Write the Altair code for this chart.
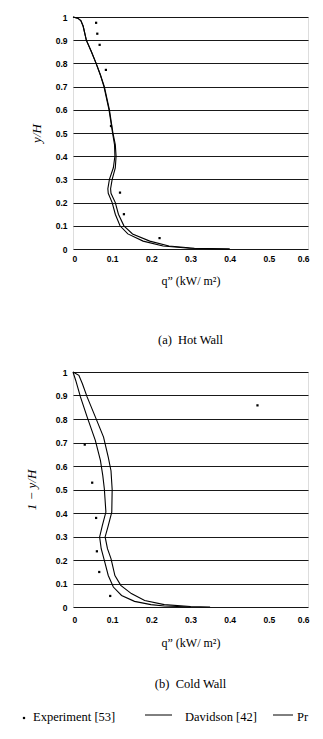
import altair as alt
import pandas as pd

# ---------------- data ----------------
x_ticks = [0, 0.1, 0.2, 0.3, 0.4, 0.5, 0.6]
y_ticks = [0, 0.1, 0.2, 0.3, 0.4, 0.5, 0.6, 0.7, 0.8, 0.9, 1.0]

# (a) Hot wall
hot_dav_q = [0, 0.012, 0.02, 0.026, 0.034, 0.047, 0.059, 0.07, 0.079, 0.092, 0.101, 0.106, 0.107,
             0.103, 0.093, 0.089, 0.09, 0.1, 0.108, 0.12, 0.14, 0.179, 0.23, 0.297, 0.4]
hot_dav_y = [1, 0.995, 0.985, 0.96, 0.9, 0.85, 0.8, 0.75, 0.7, 0.6, 0.5, 0.45, 0.4,
             0.35, 0.3, 0.26, 0.24, 0.2, 0.15, 0.1, 0.065, 0.034, 0.013, 0.003, 0]
hot_pre_q = [0, 0.012, 0.02, 0.026, 0.034, 0.047, 0.059, 0.07, 0.08, 0.093, 0.102, 0.108, 0.11,
             0.108, 0.1, 0.096, 0.097, 0.108, 0.116, 0.13, 0.152, 0.196, 0.245, 0.31, 0.4]
hot_pre_y = [1, 0.995, 0.985, 0.96, 0.9, 0.85, 0.8, 0.75, 0.7, 0.6, 0.5, 0.45, 0.4,
             0.35, 0.3, 0.26, 0.24, 0.2, 0.15, 0.1, 0.065, 0.034, 0.013, 0.003, 0]
hot_exp_q = [0.059, 0.062, 0.068, 0.084, 0.097, 0.12, 0.13, 0.221]
hot_exp_y = [0.975, 0.928, 0.88, 0.772, 0.53, 0.243, 0.15, 0.047]

# (b) Cold wall
cold_dav_q = [0, 0.007, 0.019, 0.036, 0.057, 0.07, 0.076, 0.08, 0.084, 0.075, 0.068, 0.072, 0.08,
              0.09, 0.103, 0.124, 0.157, 0.199, 0.233, 0.3]
cold_dav_y = [1, 0.964, 0.894, 0.809, 0.709, 0.624, 0.56, 0.503, 0.404, 0.347, 0.298, 0.248, 0.198,
              0.134, 0.085, 0.049, 0.024, 0.01, 0.004, 0]
cold_pre_q = [0, 0.015, 0.024, 0.036, 0.057, 0.078, 0.09, 0.097, 0.1, 0.099, 0.089, 0.082, 0.088,
              0.097, 0.107, 0.122, 0.149, 0.183, 0.233, 0.3, 0.35]
cold_pre_y = [1, 0.986, 0.95, 0.894, 0.809, 0.723, 0.638, 0.58, 0.5, 0.404, 0.34, 0.298, 0.248,
              0.206, 0.134, 0.092, 0.057, 0.028, 0.01, 0.002, 0]
cold_exp_q = [0.471, 0.030, 0.049, 0.059, 0.061, 0.067, 0.095]
cold_exp_y = [0.858, 0.691, 0.529, 0.379, 0.237, 0.149, 0.047]

x_title = "q\u201d (kW/ m\u00b2)"
captions = ["(a)\u00a0\u00a0Hot Wall", "(b)\u00a0\u00a0Cold Wall"]
y_titles = ["y/H", "1 \u2212 y/H"]
legend_labels = ["Experiment [53]", "Davidson [42]", "Present"]

SERIF = "Liberation Serif"
SANS = "Liberation Sans"
W = 235


def lines_df(dq, dy, pq, py):
    rows = []
    for i, (q, y) in enumerate(zip(dq, dy)):
        rows.append({"q": q, "Y": y, "s": "Davidson", "i": i})
    for i, (q, y) in enumerate(zip(pq, py)):
        rows.append({"q": q, "Y": y, "s": "Present", "i": i})
    return pd.DataFrame(rows)


def encs(ytitle, label_pad, title_pad, ytitle_pad):
    xenc = alt.X("q:Q", scale=alt.Scale(domain=[0, 0.6], nice=False, zero=False),
                 axis=alt.Axis(values=x_ticks, tickCount=20, format=".1~f", grid=False, ticks=False,
                               domain=False, labelOverlap=False, labelFlush=True, labelFlushOffset=1,
                               labelFont=SANS, labelFontWeight="bold", labelFontSize=8.5,
                               labelColor="black", labelPadding=label_pad,
                               title=x_title, titleFont=SERIF, titleFontSize=12,
                               titleFontWeight="normal", titleColor="black", titlePadding=title_pad))
    yenc = alt.Y("Y:Q", scale=alt.Scale(domain=[0, 1], nice=False, zero=False),
                 axis=alt.Axis(values=y_ticks, tickCount=20, format=".1~f", grid=True,
                               gridColor="black", gridWidth=1.2, gridOpacity=0.9, ticks=False,
                               domain=False, labelOverlap=False, labelFlush=False,
                               labelFont=SANS, labelFontWeight="bold", labelFontSize=8.5,
                               labelColor="black", labelPadding=6,
                               title=ytitle, titleFont=SERIF, titleFontSize=13,
                               titleFontStyle="italic", titleFontWeight="normal",
                               titleColor="black", titlePadding=ytitle_pad))
    return xenc, yenc


def panel_layers(dq, dy, pq, py, eq, ey, ytitle, label_pad, title_pad, ytitle_pad):
    xenc, yenc = encs(ytitle, label_pad, title_pad, ytitle_pad)
    ln = alt.Chart(lines_df(dq, dy, pq, py)).mark_line(color="black", strokeWidth=1.1).encode(
        x=xenc, y=yenc, detail="s:N", order="i:Q")
    pts = alt.Chart(pd.DataFrame({"q": eq, "Y": ey})).mark_square(
        size=5, color="black", opacity=1).encode(x=xenc, y=yenc)
    return [ln, pts]


def text_layer(label, x, y, align="left", size=12.5, **kw):
    return alt.Chart(pd.DataFrame({"t": [label]})).mark_text(
        align=align, baseline="middle", font=SERIF, fontSize=size, color="black", **kw).encode(
        text="t:N", x=alt.value(x), y=alt.value(y))


# ---- top panel ----
top = alt.layer(*panel_layers(hot_dav_q, hot_dav_y, hot_pre_q, hot_pre_y, hot_exp_q, hot_exp_y,
                              y_titles[0], 5, 13, 12)).properties(
    width=W, height=232,
    title=alt.TitleParams(captions[0], orient="bottom", offset=47, font=SERIF,
                          fontSize=12.5, fontWeight="normal", color="black", anchor="middle"))

# ---- bottom panel with caption and legend ----
HB = 235
LY = 345
extra = [
    text_layer(captions[1], W / 2, HB + 77, align="center", size=12.5),
    alt.Chart(pd.DataFrame({"t": [legend_labels[0]]})).mark_square(
        size=5, color="black", opacity=1).encode(x=alt.value(-49), y=alt.value(LY + 1)),
    text_layer(legend_labels[0], -40, LY),
    alt.Chart(pd.DataFrame({"t": [legend_labels[1]]})).mark_rule(
        color="black", strokeWidth=1).encode(x=alt.value(72), x2=alt.value(99), y=alt.value(LY - 2)),
    text_layer(legend_labels[1], 112, LY),
    alt.Chart(pd.DataFrame({"t": [legend_labels[2]]})).mark_rule(
        color="black", strokeWidth=1).encode(x=alt.value(200), x2=alt.value(220), y=alt.value(LY - 2)),
    text_layer(legend_labels[2], 224, LY, limit=12, ellipsis="\u200b"),
]
bottom = alt.layer(*panel_layers(cold_dav_q, cold_dav_y, cold_pre_q, cold_pre_y, cold_exp_q,
                                 cold_exp_y, y_titles[1], 8, 14, 17), *extra).properties(
    width=W, height=HB)

chart = alt.vconcat(top, bottom, spacing=20).properties(
    padding={"left": 14, "top": 4, "right": 0, "bottom": 0}
).configure_view(stroke="black", strokeWidth=1.3).configure(background="white")

chart.save("out.html", embed_options={"renderer": "svg", "actions": False})
